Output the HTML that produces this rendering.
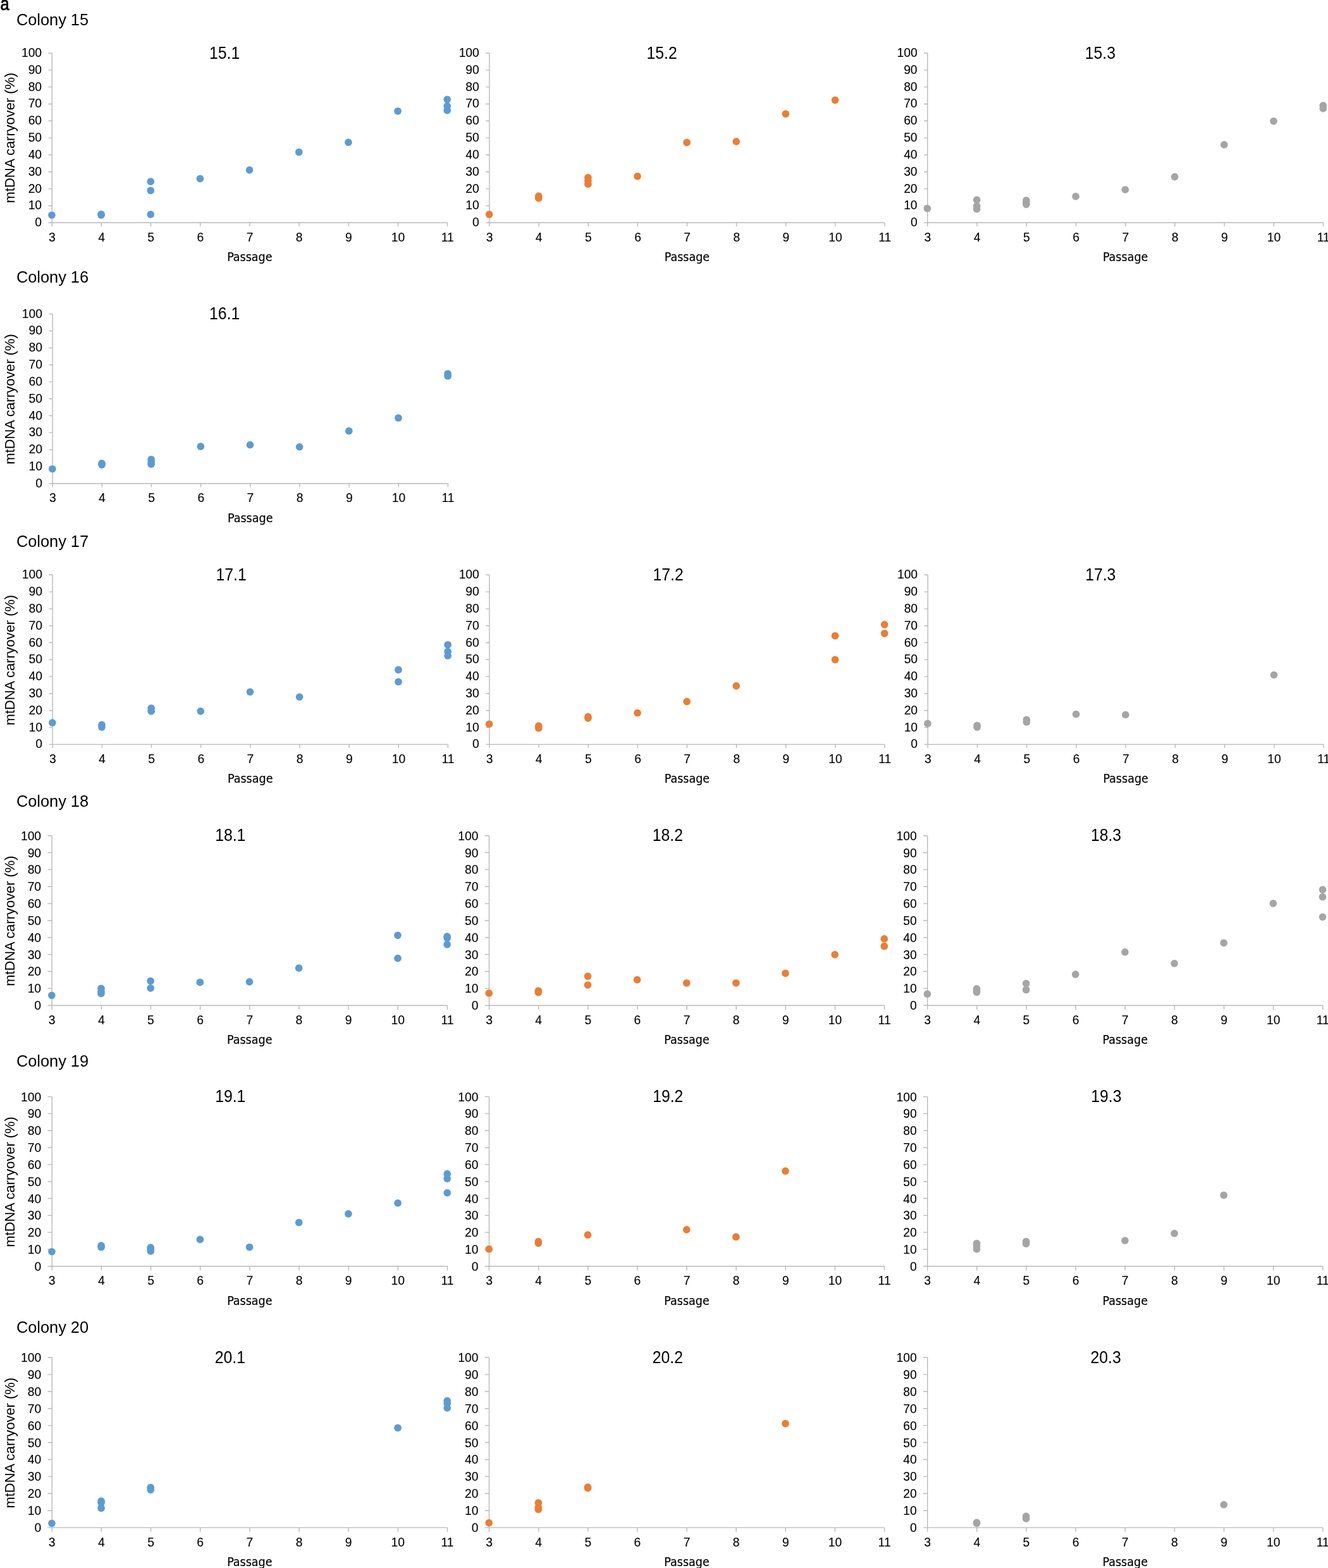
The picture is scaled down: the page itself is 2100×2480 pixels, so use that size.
<!DOCTYPE html>
<html lang="en"><head><meta charset="utf-8"><title>mtDNA carryover by passage</title>
<style>
html,body{margin:0;padding:0;background:#fff;}
body{width:2100px;height:2480px;overflow:hidden;}
svg{display:block;}
text{font-family:"Liberation Sans",Arial,Helvetica,sans-serif;fill:#000;}
.tk{font-size:20.3px;stroke:#000;stroke-width:0.12px;}
.yt text{text-anchor:end;transform-box:fill-box;transform-origin:100% 81%;transform:scale(0.95,1.025);}
.xt text{text-anchor:middle;transform-box:fill-box;transform-origin:50% 81%;transform:scale(0.95,1.025);}
.ti{font-size:25.8px;text-anchor:middle;transform-box:fill-box;transform-origin:50% 81%;transform:scale(0.96,1.05);}
.co{font-size:25.35px;transform-box:fill-box;transform-origin:0 81%;transform:scale(1,1.04);}
.yl{font-size:21.85px;text-anchor:middle;}
.xl{font-size:19.5px;text-anchor:middle;font-family:"DejaVu Sans Condensed","DejaVu Sans","Liberation Sans",sans-serif;font-stretch:condensed;stroke:#000;stroke-width:0.2px;}
.pl{font-size:28.8px;stroke:#000;stroke-width:0.85px;stroke-linejoin:round;}
.ax{stroke:#b8b9ba;stroke-width:1.4;fill:none;}
</style></head><body>
<svg width="2100" height="2480" viewBox="0 0 2100 2480" role="img" aria-label="mtDNA carryover (%) by passage for colonies 15 to 20">
<rect width="2100" height="2480" fill="#fff"/>
<text class="pl" transform="translate(0.6 15.5) scale(0.88 1)">a</text>
<text class="co" x="25.9" y="39.9">Colony 15</text>
<text class="co" x="25.9" y="447.3">Colony 16</text>
<text class="co" x="25.9" y="864.8">Colony 17</text>
<text class="co" x="25.9" y="1275.7">Colony 18</text>
<text class="co" x="25.9" y="1686.9">Colony 19</text>
<text class="co" x="25.9" y="2107.5">Colony 20</text>
<g>
<path class="ax" d="M82.2 84V352.3H707.5M76.5 352.3H82.2M76.5 325.47H82.2M76.5 298.64H82.2M76.5 271.81H82.2M76.5 244.98H82.2M76.5 218.15H82.2M76.5 191.32H82.2M76.5 164.49H82.2M76.5 137.66H82.2M76.5 110.83H82.2M76.5 84H82.2M82.2 352.3V358M160.36 352.3V358M238.52 352.3V358M316.69 352.3V358M394.85 352.3V358M473.01 352.3V358M551.17 352.3V358M629.34 352.3V358M707.5 352.3V358"/>
<g class="tk yt">
<text x="66.1" y="358.3">0</text>
<text x="66.1" y="331.47">10</text>
<text x="66.1" y="304.64">20</text>
<text x="66.1" y="277.81">30</text>
<text x="66.1" y="250.98">40</text>
<text x="66.1" y="224.15">50</text>
<text x="66.1" y="197.32">60</text>
<text x="66.1" y="170.49">70</text>
<text x="66.1" y="143.66">80</text>
<text x="66.1" y="116.83">90</text>
<text x="66.1" y="90">100</text>
</g>
<g class="tk xt">
<text x="82.4" y="381.8">3</text>
<text x="160.56" y="381.8">4</text>
<text x="238.72" y="381.8">5</text>
<text x="316.89" y="381.8">6</text>
<text x="395.05" y="381.8">7</text>
<text x="473.21" y="381.8">8</text>
<text x="551.38" y="381.8">9</text>
<text x="629.54" y="381.8">10</text>
<text x="707.7" y="381.8">11</text>
</g>
<text class="ti" x="355.1" y="92.5">15.1</text>
<text class="xl" x="394.85" y="413">Passage</text>
<text class="yl" transform="translate(23.1 218.05) rotate(-90) scale(1 1.03)">mtDNA carryover (%)</text>
<g fill="#5b9bd5">
<circle cx="81.9" cy="340.23" r="5.85"/>
<circle cx="160.06" cy="340.23" r="5.85"/>
<circle cx="160.06" cy="338.88" r="5.85"/>
<circle cx="238.22" cy="339.15" r="5.85"/>
<circle cx="238.22" cy="301.32" r="5.85"/>
<circle cx="238.22" cy="287.1" r="5.85"/>
<circle cx="316.39" cy="282.54" r="5.85"/>
<circle cx="394.55" cy="268.86" r="5.85"/>
<circle cx="472.71" cy="240.69" r="5.85"/>
<circle cx="550.88" cy="225.13" r="5.85"/>
<circle cx="629.04" cy="175.76" r="5.85"/>
<circle cx="707.2" cy="157.25" r="5.85"/>
<circle cx="707.2" cy="167.71" r="5.85"/>
<circle cx="707.2" cy="174.69" r="5.85"/>
</g>
</g>
<g>
<path class="ax" d="M773.9 84V352.3H1399M768.2 352.3H773.9M768.2 325.47H773.9M768.2 298.64H773.9M768.2 271.81H773.9M768.2 244.98H773.9M768.2 218.15H773.9M768.2 191.32H773.9M768.2 164.49H773.9M768.2 137.66H773.9M768.2 110.83H773.9M768.2 84H773.9M773.9 352.3V358M852.04 352.3V358M930.17 352.3V358M1008.31 352.3V358M1086.45 352.3V358M1164.59 352.3V358M1242.72 352.3V358M1320.86 352.3V358M1399 352.3V358"/>
<g class="tk yt">
<text x="757.8" y="358.3">0</text>
<text x="757.8" y="331.47">10</text>
<text x="757.8" y="304.64">20</text>
<text x="757.8" y="277.81">30</text>
<text x="757.8" y="250.98">40</text>
<text x="757.8" y="224.15">50</text>
<text x="757.8" y="197.32">60</text>
<text x="757.8" y="170.49">70</text>
<text x="757.8" y="143.66">80</text>
<text x="757.8" y="116.83">90</text>
<text x="757.8" y="90">100</text>
</g>
<g class="tk xt">
<text x="774.1" y="381.8">3</text>
<text x="852.24" y="381.8">4</text>
<text x="930.38" y="381.8">5</text>
<text x="1008.51" y="381.8">6</text>
<text x="1086.65" y="381.8">7</text>
<text x="1164.79" y="381.8">8</text>
<text x="1242.92" y="381.8">9</text>
<text x="1321.06" y="381.8">10</text>
<text x="1399.2" y="381.8">11</text>
</g>
<text class="ti" x="1046.6" y="92.5">15.2</text>
<text class="xl" x="1086.45" y="413">Passage</text>
<g fill="#ed7d31">
<circle cx="773.6" cy="339.15" r="5.85"/>
<circle cx="851.74" cy="310.18" r="5.85"/>
<circle cx="851.74" cy="313.4" r="5.85"/>
<circle cx="929.88" cy="280.93" r="5.85"/>
<circle cx="929.88" cy="286.03" r="5.85"/>
<circle cx="929.88" cy="291.13" r="5.85"/>
<circle cx="1008.01" cy="278.79" r="5.85"/>
<circle cx="1086.15" cy="225.39" r="5.85"/>
<circle cx="1164.29" cy="223.78" r="5.85"/>
<circle cx="1242.42" cy="180.05" r="5.85"/>
<circle cx="1320.56" cy="158.32" r="5.85"/>
</g>
</g>
<g>
<path class="ax" d="M1466.7 84V352.3H2092.55M1461 352.3H1466.7M1461 325.47H1466.7M1461 298.64H1466.7M1461 271.81H1466.7M1461 244.98H1466.7M1461 218.15H1466.7M1461 191.32H1466.7M1461 164.49H1466.7M1461 137.66H1466.7M1461 110.83H1466.7M1461 84H1466.7M1466.7 352.3V358M1544.93 352.3V358M1623.16 352.3V358M1701.39 352.3V358M1779.62 352.3V358M1857.86 352.3V358M1936.09 352.3V358M2014.32 352.3V358M2092.55 352.3V358"/>
<g class="tk yt">
<text x="1450.6" y="358.3">0</text>
<text x="1450.6" y="331.47">10</text>
<text x="1450.6" y="304.64">20</text>
<text x="1450.6" y="277.81">30</text>
<text x="1450.6" y="250.98">40</text>
<text x="1450.6" y="224.15">50</text>
<text x="1450.6" y="197.32">60</text>
<text x="1450.6" y="170.49">70</text>
<text x="1450.6" y="143.66">80</text>
<text x="1450.6" y="116.83">90</text>
<text x="1450.6" y="90">100</text>
</g>
<g class="tk xt">
<text x="1466.9" y="381.8">3</text>
<text x="1545.13" y="381.8">4</text>
<text x="1623.36" y="381.8">5</text>
<text x="1701.59" y="381.8">6</text>
<text x="1779.83" y="381.8">7</text>
<text x="1858.06" y="381.8">8</text>
<text x="1936.29" y="381.8">9</text>
<text x="2014.52" y="381.8">10</text>
<text x="2092.75" y="381.8">11</text>
</g>
<text class="ti" x="1739.9" y="92.5">15.3</text>
<text class="xl" x="1779.62" y="413">Passage</text>
<g fill="#a5a5a5">
<circle cx="1466.4" cy="329.76" r="5.85"/>
<circle cx="1544.63" cy="316.08" r="5.85"/>
<circle cx="1544.63" cy="326.01" r="5.85"/>
<circle cx="1544.63" cy="330.57" r="5.85"/>
<circle cx="1622.86" cy="316.88" r="5.85"/>
<circle cx="1622.86" cy="320.64" r="5.85"/>
<circle cx="1622.86" cy="323.32" r="5.85"/>
<circle cx="1701.09" cy="310.71" r="5.85"/>
<circle cx="1779.33" cy="299.98" r="5.85"/>
<circle cx="1857.56" cy="279.59" r="5.85"/>
<circle cx="1935.79" cy="228.88" r="5.85"/>
<circle cx="2014.02" cy="191.59" r="5.85"/>
<circle cx="2092.25" cy="166.9" r="5.85"/>
<circle cx="2092.25" cy="171.73" r="5.85"/>
</g>
</g>
<g>
<path class="ax" d="M83.1 496.6V764.8H708.4M77.4 764.8H83.1M77.4 737.98H83.1M77.4 711.16H83.1M77.4 684.34H83.1M77.4 657.52H83.1M77.4 630.7H83.1M77.4 603.88H83.1M77.4 577.06H83.1M77.4 550.24H83.1M77.4 523.42H83.1M77.4 496.6H83.1M83.1 764.8V770.5M161.26 764.8V770.5M239.42 764.8V770.5M317.59 764.8V770.5M395.75 764.8V770.5M473.91 764.8V770.5M552.07 764.8V770.5M630.24 764.8V770.5M708.4 764.8V770.5"/>
<g class="tk yt">
<text x="67" y="770.8">0</text>
<text x="67" y="743.98">10</text>
<text x="67" y="717.16">20</text>
<text x="67" y="690.34">30</text>
<text x="67" y="663.52">40</text>
<text x="67" y="636.7">50</text>
<text x="67" y="609.88">60</text>
<text x="67" y="583.06">70</text>
<text x="67" y="556.24">80</text>
<text x="67" y="529.42">90</text>
<text x="67" y="502.6">100</text>
</g>
<g class="tk xt">
<text x="83.3" y="794.3">3</text>
<text x="161.46" y="794.3">4</text>
<text x="239.62" y="794.3">5</text>
<text x="317.79" y="794.3">6</text>
<text x="395.95" y="794.3">7</text>
<text x="474.11" y="794.3">8</text>
<text x="552.27" y="794.3">9</text>
<text x="630.44" y="794.3">10</text>
<text x="708.6" y="794.3">11</text>
</g>
<text class="ti" x="355.1" y="505.1">16.1</text>
<text class="xl" x="395.75" y="825.5">Passage</text>
<text class="yl" transform="translate(23.1 631.4) rotate(-90) scale(1 1.03)">mtDNA carryover (%)</text>
<g fill="#5b9bd5">
<circle cx="82.8" cy="741.73" r="5.85"/>
<circle cx="160.96" cy="732.88" r="5.85"/>
<circle cx="160.96" cy="735.03" r="5.85"/>
<circle cx="239.12" cy="726.72" r="5.85"/>
<circle cx="239.12" cy="730.47" r="5.85"/>
<circle cx="239.12" cy="734.23" r="5.85"/>
<circle cx="317.29" cy="706.06" r="5.85"/>
<circle cx="395.45" cy="703.65" r="5.85"/>
<circle cx="473.61" cy="706.87" r="5.85"/>
<circle cx="551.77" cy="681.66" r="5.85"/>
<circle cx="629.94" cy="661.01" r="5.85"/>
<circle cx="708.1" cy="591.01" r="5.85"/>
<circle cx="708.1" cy="594.76" r="5.85"/>
</g>
</g>
<g>
<path class="ax" d="M83.1 909.3V1177.4H708.4M77.4 1177.4H83.1M77.4 1150.59H83.1M77.4 1123.78H83.1M77.4 1096.97H83.1M77.4 1070.16H83.1M77.4 1043.35H83.1M77.4 1016.54H83.1M77.4 989.73H83.1M77.4 962.92H83.1M77.4 936.11H83.1M77.4 909.3H83.1M83.1 1177.4V1183.1M161.26 1177.4V1183.1M239.42 1177.4V1183.1M317.59 1177.4V1183.1M395.75 1177.4V1183.1M473.91 1177.4V1183.1M552.07 1177.4V1183.1M630.24 1177.4V1183.1M708.4 1177.4V1183.1"/>
<g class="tk yt">
<text x="67" y="1183.4">0</text>
<text x="67" y="1156.59">10</text>
<text x="67" y="1129.78">20</text>
<text x="67" y="1102.97">30</text>
<text x="67" y="1076.16">40</text>
<text x="67" y="1049.35">50</text>
<text x="67" y="1022.54">60</text>
<text x="67" y="995.73">70</text>
<text x="67" y="968.92">80</text>
<text x="67" y="942.11">90</text>
<text x="67" y="915.3">100</text>
</g>
<g class="tk xt">
<text x="83.3" y="1206.9">3</text>
<text x="161.46" y="1206.9">4</text>
<text x="239.62" y="1206.9">5</text>
<text x="317.79" y="1206.9">6</text>
<text x="395.95" y="1206.9">7</text>
<text x="474.11" y="1206.9">8</text>
<text x="552.27" y="1206.9">9</text>
<text x="630.44" y="1206.9">10</text>
<text x="708.6" y="1206.9">11</text>
</g>
<text class="ti" x="365.6" y="917.8">17.1</text>
<text class="xl" x="395.75" y="1238.1">Passage</text>
<text class="yl" transform="translate(23.1 1044.05) rotate(-90) scale(1 1.03)">mtDNA carryover (%)</text>
<g fill="#5b9bd5">
<circle cx="82.8" cy="1143.08" r="5.85"/>
<circle cx="160.96" cy="1146.3" r="5.85"/>
<circle cx="160.96" cy="1150.05" r="5.85"/>
<circle cx="239.12" cy="1120.03" r="5.85"/>
<circle cx="239.12" cy="1124.85" r="5.85"/>
<circle cx="317.29" cy="1124.85" r="5.85"/>
<circle cx="395.45" cy="1094.29" r="5.85"/>
<circle cx="473.61" cy="1102.33" r="5.85"/>
<circle cx="629.94" cy="1059.44" r="5.85"/>
<circle cx="629.94" cy="1078.47" r="5.85"/>
<circle cx="708.1" cy="1019.76" r="5.85"/>
<circle cx="708.1" cy="1030.48" r="5.85"/>
<circle cx="708.1" cy="1037.18" r="5.85"/>
</g>
</g>
<g>
<path class="ax" d="M773.9 909.3V1177.4H1399M768.2 1177.4H773.9M768.2 1150.59H773.9M768.2 1123.78H773.9M768.2 1096.97H773.9M768.2 1070.16H773.9M768.2 1043.35H773.9M768.2 1016.54H773.9M768.2 989.73H773.9M768.2 962.92H773.9M768.2 936.11H773.9M768.2 909.3H773.9M773.9 1177.4V1183.1M852.04 1177.4V1183.1M930.17 1177.4V1183.1M1008.31 1177.4V1183.1M1086.45 1177.4V1183.1M1164.59 1177.4V1183.1M1242.72 1177.4V1183.1M1320.86 1177.4V1183.1M1399 1177.4V1183.1"/>
<g class="tk yt">
<text x="757.8" y="1183.4">0</text>
<text x="757.8" y="1156.59">10</text>
<text x="757.8" y="1129.78">20</text>
<text x="757.8" y="1102.97">30</text>
<text x="757.8" y="1076.16">40</text>
<text x="757.8" y="1049.35">50</text>
<text x="757.8" y="1022.54">60</text>
<text x="757.8" y="995.73">70</text>
<text x="757.8" y="968.92">80</text>
<text x="757.8" y="942.11">90</text>
<text x="757.8" y="915.3">100</text>
</g>
<g class="tk xt">
<text x="774.1" y="1206.9">3</text>
<text x="852.24" y="1206.9">4</text>
<text x="930.38" y="1206.9">5</text>
<text x="1008.51" y="1206.9">6</text>
<text x="1086.65" y="1206.9">7</text>
<text x="1164.79" y="1206.9">8</text>
<text x="1242.92" y="1206.9">9</text>
<text x="1321.06" y="1206.9">10</text>
<text x="1399.2" y="1206.9">11</text>
</g>
<text class="ti" x="1056.6" y="917.8">17.2</text>
<text class="xl" x="1086.45" y="1238.1">Passage</text>
<g fill="#ed7d31">
<circle cx="773.6" cy="1145.23" r="5.85"/>
<circle cx="851.74" cy="1148.18" r="5.85"/>
<circle cx="851.74" cy="1151.66" r="5.85"/>
<circle cx="929.88" cy="1133.7" r="5.85"/>
<circle cx="929.88" cy="1135.84" r="5.85"/>
<circle cx="1008.01" cy="1127.53" r="5.85"/>
<circle cx="1086.15" cy="1109.57" r="5.85"/>
<circle cx="1164.29" cy="1084.91" r="5.85"/>
<circle cx="1320.56" cy="1005.55" r="5.85"/>
<circle cx="1320.56" cy="1043.35" r="5.85"/>
<circle cx="1398.7" cy="987.85" r="5.85"/>
<circle cx="1398.7" cy="1001.79" r="5.85"/>
</g>
</g>
<g>
<path class="ax" d="M1467.2 909.3V1177.4H2093.05M1461.5 1177.4H1467.2M1461.5 1150.59H1467.2M1461.5 1123.78H1467.2M1461.5 1096.97H1467.2M1461.5 1070.16H1467.2M1461.5 1043.35H1467.2M1461.5 1016.54H1467.2M1461.5 989.73H1467.2M1461.5 962.92H1467.2M1461.5 936.11H1467.2M1461.5 909.3H1467.2M1467.2 1177.4V1183.1M1545.43 1177.4V1183.1M1623.66 1177.4V1183.1M1701.89 1177.4V1183.1M1780.12 1177.4V1183.1M1858.36 1177.4V1183.1M1936.59 1177.4V1183.1M2014.82 1177.4V1183.1M2093.05 1177.4V1183.1"/>
<g class="tk yt">
<text x="1451.1" y="1183.4">0</text>
<text x="1451.1" y="1156.59">10</text>
<text x="1451.1" y="1129.78">20</text>
<text x="1451.1" y="1102.97">30</text>
<text x="1451.1" y="1076.16">40</text>
<text x="1451.1" y="1049.35">50</text>
<text x="1451.1" y="1022.54">60</text>
<text x="1451.1" y="995.73">70</text>
<text x="1451.1" y="968.92">80</text>
<text x="1451.1" y="942.11">90</text>
<text x="1451.1" y="915.3">100</text>
</g>
<g class="tk xt">
<text x="1467.4" y="1206.9">3</text>
<text x="1545.63" y="1206.9">4</text>
<text x="1623.86" y="1206.9">5</text>
<text x="1702.09" y="1206.9">6</text>
<text x="1780.33" y="1206.9">7</text>
<text x="1858.56" y="1206.9">8</text>
<text x="1936.79" y="1206.9">9</text>
<text x="2015.02" y="1206.9">10</text>
<text x="2093.25" y="1206.9">11</text>
</g>
<text class="ti" x="1740.3" y="917.8">17.3</text>
<text class="xl" x="1780.12" y="1238.1">Passage</text>
<g fill="#a5a5a5">
<circle cx="1466.9" cy="1144.42" r="5.85"/>
<circle cx="1545.13" cy="1147.37" r="5.85"/>
<circle cx="1545.13" cy="1150.05" r="5.85"/>
<circle cx="1623.36" cy="1138.26" r="5.85"/>
<circle cx="1623.36" cy="1142.01" r="5.85"/>
<circle cx="1701.59" cy="1129.68" r="5.85"/>
<circle cx="1779.83" cy="1130.48" r="5.85"/>
<circle cx="2014.52" cy="1067.48" r="5.85"/>
</g>
</g>
<g>
<path class="ax" d="M82.1 1321.7V1590.2H707.4M75.4 1590.2H82.1M75.4 1563.35H82.1M75.4 1536.5H82.1M75.4 1509.65H82.1M75.4 1482.8H82.1M75.4 1455.95H82.1M75.4 1429.1H82.1M75.4 1402.25H82.1M75.4 1375.4H82.1M75.4 1348.55H82.1M75.4 1321.7H82.1M82.1 1590.2V1596.9M160.26 1590.2V1596.9M238.42 1590.2V1596.9M316.59 1590.2V1596.9M394.75 1590.2V1596.9M472.91 1590.2V1596.9M551.07 1590.2V1596.9M629.24 1590.2V1596.9M707.4 1590.2V1596.9"/>
<g class="tk yt">
<text x="65.1" y="1597.2">0</text>
<text x="65.1" y="1570.35">10</text>
<text x="65.1" y="1543.5">20</text>
<text x="65.1" y="1516.65">30</text>
<text x="65.1" y="1489.8">40</text>
<text x="65.1" y="1462.95">50</text>
<text x="65.1" y="1436.1">60</text>
<text x="65.1" y="1409.25">70</text>
<text x="65.1" y="1382.4">80</text>
<text x="65.1" y="1355.55">90</text>
<text x="65.1" y="1328.7">100</text>
</g>
<g class="tk xt">
<text x="82.1" y="1619.9">3</text>
<text x="160.26" y="1619.9">4</text>
<text x="238.42" y="1619.9">5</text>
<text x="316.59" y="1619.9">6</text>
<text x="394.75" y="1619.9">7</text>
<text x="472.91" y="1619.9">8</text>
<text x="551.07" y="1619.9">9</text>
<text x="629.24" y="1619.9">10</text>
<text x="707.4" y="1619.9">11</text>
</g>
<text class="ti" x="364.3" y="1330.2">18.1</text>
<text class="xl" x="394.75" y="1650.9">Passage</text>
<text class="yl" transform="translate(23.1 1456.65) rotate(-90) scale(1 1.03)">mtDNA carryover (%)</text>
<g fill="#5b9bd5">
<circle cx="81.8" cy="1574.36" r="5.85"/>
<circle cx="159.96" cy="1563.35" r="5.85"/>
<circle cx="159.96" cy="1567.91" r="5.85"/>
<circle cx="159.96" cy="1571.4" r="5.85"/>
<circle cx="238.12" cy="1551.54" r="5.85"/>
<circle cx="238.12" cy="1562.81" r="5.85"/>
<circle cx="316.29" cy="1553.68" r="5.85"/>
<circle cx="394.45" cy="1552.88" r="5.85"/>
<circle cx="472.61" cy="1531.13" r="5.85"/>
<circle cx="628.94" cy="1479.31" r="5.85"/>
<circle cx="628.94" cy="1515.56" r="5.85"/>
<circle cx="707.1" cy="1481.19" r="5.85"/>
<circle cx="707.1" cy="1483.61" r="5.85"/>
<circle cx="707.1" cy="1493.81" r="5.85"/>
</g>
</g>
<g>
<path class="ax" d="M773.5 1321.7V1590.2H1398.6M766.8 1590.2H773.5M766.8 1563.35H773.5M766.8 1536.5H773.5M766.8 1509.65H773.5M766.8 1482.8H773.5M766.8 1455.95H773.5M766.8 1429.1H773.5M766.8 1402.25H773.5M766.8 1375.4H773.5M766.8 1348.55H773.5M766.8 1321.7H773.5M773.5 1590.2V1596.9M851.64 1590.2V1596.9M929.77 1590.2V1596.9M1007.91 1590.2V1596.9M1086.05 1590.2V1596.9M1164.19 1590.2V1596.9M1242.33 1590.2V1596.9M1320.46 1590.2V1596.9M1398.6 1590.2V1596.9"/>
<g class="tk yt">
<text x="756.5" y="1597.2">0</text>
<text x="756.5" y="1570.35">10</text>
<text x="756.5" y="1543.5">20</text>
<text x="756.5" y="1516.65">30</text>
<text x="756.5" y="1489.8">40</text>
<text x="756.5" y="1462.95">50</text>
<text x="756.5" y="1436.1">60</text>
<text x="756.5" y="1409.25">70</text>
<text x="756.5" y="1382.4">80</text>
<text x="756.5" y="1355.55">90</text>
<text x="756.5" y="1328.7">100</text>
</g>
<g class="tk xt">
<text x="773.5" y="1619.9">3</text>
<text x="851.64" y="1619.9">4</text>
<text x="929.77" y="1619.9">5</text>
<text x="1007.91" y="1619.9">6</text>
<text x="1086.05" y="1619.9">7</text>
<text x="1164.19" y="1619.9">8</text>
<text x="1242.33" y="1619.9">9</text>
<text x="1320.46" y="1619.9">10</text>
<text x="1398.6" y="1619.9">11</text>
</g>
<text class="ti" x="1055.9" y="1330.2">18.2</text>
<text class="xl" x="1086.05" y="1650.9">Passage</text>
<g fill="#ed7d31">
<circle cx="773.2" cy="1570.87" r="5.85"/>
<circle cx="851.34" cy="1567.11" r="5.85"/>
<circle cx="851.34" cy="1569.53" r="5.85"/>
<circle cx="929.48" cy="1544.02" r="5.85"/>
<circle cx="929.48" cy="1557.98" r="5.85"/>
<circle cx="1007.61" cy="1549.66" r="5.85"/>
<circle cx="1085.75" cy="1554.76" r="5.85"/>
<circle cx="1163.89" cy="1554.76" r="5.85"/>
<circle cx="1242.03" cy="1539.45" r="5.85"/>
<circle cx="1320.16" cy="1509.92" r="5.85"/>
<circle cx="1398.3" cy="1484.95" r="5.85"/>
<circle cx="1398.3" cy="1496.49" r="5.85"/>
</g>
</g>
<g>
<path class="ax" d="M1466.65 1321.7V1590.2H2091.8M1459.95 1590.2H1466.65M1459.95 1563.35H1466.65M1459.95 1536.5H1466.65M1459.95 1509.65H1466.65M1459.95 1482.8H1466.65M1459.95 1455.95H1466.65M1459.95 1429.1H1466.65M1459.95 1402.25H1466.65M1459.95 1375.4H1466.65M1459.95 1348.55H1466.65M1459.95 1321.7H1466.65M1466.65 1590.2V1596.9M1544.79 1590.2V1596.9M1622.94 1590.2V1596.9M1701.08 1590.2V1596.9M1779.23 1590.2V1596.9M1857.37 1590.2V1596.9M1935.51 1590.2V1596.9M2013.66 1590.2V1596.9M2091.8 1590.2V1596.9"/>
<g class="tk yt">
<text x="1449.65" y="1597.2">0</text>
<text x="1449.65" y="1570.35">10</text>
<text x="1449.65" y="1543.5">20</text>
<text x="1449.65" y="1516.65">30</text>
<text x="1449.65" y="1489.8">40</text>
<text x="1449.65" y="1462.95">50</text>
<text x="1449.65" y="1436.1">60</text>
<text x="1449.65" y="1409.25">70</text>
<text x="1449.65" y="1382.4">80</text>
<text x="1449.65" y="1355.55">90</text>
<text x="1449.65" y="1328.7">100</text>
</g>
<g class="tk xt">
<text x="1466.65" y="1619.9">3</text>
<text x="1544.79" y="1619.9">4</text>
<text x="1622.94" y="1619.9">5</text>
<text x="1701.08" y="1619.9">6</text>
<text x="1779.23" y="1619.9">7</text>
<text x="1857.37" y="1619.9">8</text>
<text x="1935.51" y="1619.9">9</text>
<text x="2013.66" y="1619.9">10</text>
<text x="2091.8" y="1619.9">11</text>
</g>
<text class="ti" x="1749" y="1330.2">18.3</text>
<text class="xl" x="1779.23" y="1650.9">Passage</text>
<g fill="#a5a5a5">
<circle cx="1466.35" cy="1572.21" r="5.85"/>
<circle cx="1544.49" cy="1563.89" r="5.85"/>
<circle cx="1544.49" cy="1566.3" r="5.85"/>
<circle cx="1544.49" cy="1569.26" r="5.85"/>
<circle cx="1622.64" cy="1555.56" r="5.85"/>
<circle cx="1622.64" cy="1565.5" r="5.85"/>
<circle cx="1700.78" cy="1541.06" r="5.85"/>
<circle cx="1778.93" cy="1505.89" r="5.85"/>
<circle cx="1857.07" cy="1523.88" r="5.85"/>
<circle cx="1935.21" cy="1491.39" r="5.85"/>
<circle cx="2013.36" cy="1428.83" r="5.85"/>
<circle cx="2091.5" cy="1407.08" r="5.85"/>
<circle cx="2091.5" cy="1418.63" r="5.85"/>
<circle cx="2091.5" cy="1450.31" r="5.85"/>
</g>
</g>
<g>
<path class="ax" d="M82.2 1734.6V2002.8H707.5M75.5 2002.8H82.2M75.5 1975.98H82.2M75.5 1949.16H82.2M75.5 1922.34H82.2M75.5 1895.52H82.2M75.5 1868.7H82.2M75.5 1841.88H82.2M75.5 1815.06H82.2M75.5 1788.24H82.2M75.5 1761.42H82.2M75.5 1734.6H82.2M82.2 2002.8V2009.5M160.36 2002.8V2009.5M238.52 2002.8V2009.5M316.69 2002.8V2009.5M394.85 2002.8V2009.5M473.01 2002.8V2009.5M551.17 2002.8V2009.5M629.34 2002.8V2009.5M707.5 2002.8V2009.5"/>
<g class="tk yt">
<text x="65.2" y="2009.8">0</text>
<text x="65.2" y="1982.98">10</text>
<text x="65.2" y="1956.16">20</text>
<text x="65.2" y="1929.34">30</text>
<text x="65.2" y="1902.52">40</text>
<text x="65.2" y="1875.7">50</text>
<text x="65.2" y="1848.88">60</text>
<text x="65.2" y="1822.06">70</text>
<text x="65.2" y="1795.24">80</text>
<text x="65.2" y="1768.42">90</text>
<text x="65.2" y="1741.6">100</text>
</g>
<g class="tk xt">
<text x="82.2" y="2032.5">3</text>
<text x="160.36" y="2032.5">4</text>
<text x="238.52" y="2032.5">5</text>
<text x="316.69" y="2032.5">6</text>
<text x="394.85" y="2032.5">7</text>
<text x="473.01" y="2032.5">8</text>
<text x="551.17" y="2032.5">9</text>
<text x="629.34" y="2032.5">10</text>
<text x="707.5" y="2032.5">11</text>
</g>
<text class="ti" x="364.3" y="1743.1">19.1</text>
<text class="xl" x="394.85" y="2063.5">Passage</text>
<text class="yl" transform="translate(23.1 1869.4) rotate(-90) scale(1 1.03)">mtDNA carryover (%)</text>
<g fill="#5b9bd5">
<circle cx="81.9" cy="1979.73" r="5.85"/>
<circle cx="160.06" cy="1970.08" r="5.85"/>
<circle cx="160.06" cy="1972.49" r="5.85"/>
<circle cx="238.22" cy="1973.03" r="5.85"/>
<circle cx="238.22" cy="1975.98" r="5.85"/>
<circle cx="238.22" cy="1978.93" r="5.85"/>
<circle cx="316.39" cy="1960.42" r="5.85"/>
<circle cx="394.55" cy="1972.49" r="5.85"/>
<circle cx="472.71" cy="1933.6" r="5.85"/>
<circle cx="550.88" cy="1919.93" r="5.85"/>
<circle cx="629.04" cy="1902.76" r="5.85"/>
<circle cx="707.2" cy="1856.63" r="5.85"/>
<circle cx="707.2" cy="1864.14" r="5.85"/>
<circle cx="707.2" cy="1886.67" r="5.85"/>
</g>
</g>
<g>
<path class="ax" d="M773.5 1734.6V2002.8H1398.6M766.8 2002.8H773.5M766.8 1975.98H773.5M766.8 1949.16H773.5M766.8 1922.34H773.5M766.8 1895.52H773.5M766.8 1868.7H773.5M766.8 1841.88H773.5M766.8 1815.06H773.5M766.8 1788.24H773.5M766.8 1761.42H773.5M766.8 1734.6H773.5M773.5 2002.8V2009.5M851.64 2002.8V2009.5M929.77 2002.8V2009.5M1007.91 2002.8V2009.5M1086.05 2002.8V2009.5M1164.19 2002.8V2009.5M1242.33 2002.8V2009.5M1320.46 2002.8V2009.5M1398.6 2002.8V2009.5"/>
<g class="tk yt">
<text x="756.5" y="2009.8">0</text>
<text x="756.5" y="1982.98">10</text>
<text x="756.5" y="1956.16">20</text>
<text x="756.5" y="1929.34">30</text>
<text x="756.5" y="1902.52">40</text>
<text x="756.5" y="1875.7">50</text>
<text x="756.5" y="1848.88">60</text>
<text x="756.5" y="1822.06">70</text>
<text x="756.5" y="1795.24">80</text>
<text x="756.5" y="1768.42">90</text>
<text x="756.5" y="1741.6">100</text>
</g>
<g class="tk xt">
<text x="773.5" y="2032.5">3</text>
<text x="851.64" y="2032.5">4</text>
<text x="929.77" y="2032.5">5</text>
<text x="1007.91" y="2032.5">6</text>
<text x="1086.05" y="2032.5">7</text>
<text x="1164.19" y="2032.5">8</text>
<text x="1242.33" y="2032.5">9</text>
<text x="1320.46" y="2032.5">10</text>
<text x="1398.6" y="2032.5">11</text>
</g>
<text class="ti" x="1056.3" y="1743.1">19.2</text>
<text class="xl" x="1086.05" y="2063.5">Passage</text>
<g fill="#ed7d31">
<circle cx="773.2" cy="1975.71" r="5.85"/>
<circle cx="851.34" cy="1963.64" r="5.85"/>
<circle cx="851.34" cy="1966.32" r="5.85"/>
<circle cx="929.48" cy="1953.18" r="5.85"/>
<circle cx="1085.75" cy="1944.87" r="5.85"/>
<circle cx="1163.89" cy="1956.4" r="5.85"/>
<circle cx="1242.03" cy="1852.07" r="5.85"/>
</g>
</g>
<g>
<path class="ax" d="M1466.65 1734.6V2002.8H2091.8M1459.95 2002.8H1466.65M1459.95 1975.98H1466.65M1459.95 1949.16H1466.65M1459.95 1922.34H1466.65M1459.95 1895.52H1466.65M1459.95 1868.7H1466.65M1459.95 1841.88H1466.65M1459.95 1815.06H1466.65M1459.95 1788.24H1466.65M1459.95 1761.42H1466.65M1459.95 1734.6H1466.65M1466.65 2002.8V2009.5M1544.79 2002.8V2009.5M1622.94 2002.8V2009.5M1701.08 2002.8V2009.5M1779.23 2002.8V2009.5M1857.37 2002.8V2009.5M1935.51 2002.8V2009.5M2013.66 2002.8V2009.5M2091.8 2002.8V2009.5"/>
<g class="tk yt">
<text x="1449.65" y="2009.8">0</text>
<text x="1449.65" y="1982.98">10</text>
<text x="1449.65" y="1956.16">20</text>
<text x="1449.65" y="1929.34">30</text>
<text x="1449.65" y="1902.52">40</text>
<text x="1449.65" y="1875.7">50</text>
<text x="1449.65" y="1848.88">60</text>
<text x="1449.65" y="1822.06">70</text>
<text x="1449.65" y="1795.24">80</text>
<text x="1449.65" y="1768.42">90</text>
<text x="1449.65" y="1741.6">100</text>
</g>
<g class="tk xt">
<text x="1466.65" y="2032.5">3</text>
<text x="1544.79" y="2032.5">4</text>
<text x="1622.94" y="2032.5">5</text>
<text x="1701.08" y="2032.5">6</text>
<text x="1779.23" y="2032.5">7</text>
<text x="1857.37" y="2032.5">8</text>
<text x="1935.51" y="2032.5">9</text>
<text x="2013.66" y="2032.5">10</text>
<text x="2091.8" y="2032.5">11</text>
</g>
<text class="ti" x="1749.4" y="1743.1">19.3</text>
<text class="xl" x="1779.23" y="2063.5">Passage</text>
<g fill="#a5a5a5">
<circle cx="1544.49" cy="1966.59" r="5.85"/>
<circle cx="1544.49" cy="1970.62" r="5.85"/>
<circle cx="1544.49" cy="1975.71" r="5.85"/>
<circle cx="1622.64" cy="1963.64" r="5.85"/>
<circle cx="1622.64" cy="1967.13" r="5.85"/>
<circle cx="1778.93" cy="1962.03" r="5.85"/>
<circle cx="1857.07" cy="1950.77" r="5.85"/>
<circle cx="1935.21" cy="1890.42" r="5.85"/>
</g>
</g>
<g>
<path class="ax" d="M82.2 2147V2416.1H707.5M75.5 2416.1H82.2M75.5 2389.19H82.2M75.5 2362.28H82.2M75.5 2335.37H82.2M75.5 2308.46H82.2M75.5 2281.55H82.2M75.5 2254.64H82.2M75.5 2227.73H82.2M75.5 2200.82H82.2M75.5 2173.91H82.2M75.5 2147H82.2M82.2 2416.1V2422.8M160.36 2416.1V2422.8M238.52 2416.1V2422.8M316.69 2416.1V2422.8M394.85 2416.1V2422.8M473.01 2416.1V2422.8M551.17 2416.1V2422.8M629.34 2416.1V2422.8M707.5 2416.1V2422.8"/>
<g class="tk yt">
<text x="65.2" y="2423.1">0</text>
<text x="65.2" y="2396.19">10</text>
<text x="65.2" y="2369.28">20</text>
<text x="65.2" y="2342.37">30</text>
<text x="65.2" y="2315.46">40</text>
<text x="65.2" y="2288.55">50</text>
<text x="65.2" y="2261.64">60</text>
<text x="65.2" y="2234.73">70</text>
<text x="65.2" y="2207.82">80</text>
<text x="65.2" y="2180.91">90</text>
<text x="65.2" y="2154">100</text>
</g>
<g class="tk xt">
<text x="82.2" y="2445.8">3</text>
<text x="160.36" y="2445.8">4</text>
<text x="238.52" y="2445.8">5</text>
<text x="316.69" y="2445.8">6</text>
<text x="394.85" y="2445.8">7</text>
<text x="473.01" y="2445.8">8</text>
<text x="551.17" y="2445.8">9</text>
<text x="629.34" y="2445.8">10</text>
<text x="707.5" y="2445.8">11</text>
</g>
<text class="ti" x="363.9" y="2155.5">20.1</text>
<text class="xl" x="394.85" y="2476.8">Passage</text>
<text class="yl" transform="translate(23.1 2282.25) rotate(-90) scale(1 1.03)">mtDNA carryover (%)</text>
<g fill="#5b9bd5">
<circle cx="81.9" cy="2409.37" r="5.85"/>
<circle cx="160.06" cy="2374.12" r="5.85"/>
<circle cx="160.06" cy="2376.54" r="5.85"/>
<circle cx="160.06" cy="2385.42" r="5.85"/>
<circle cx="238.22" cy="2352.59" r="5.85"/>
<circle cx="238.22" cy="2356.36" r="5.85"/>
<circle cx="629.04" cy="2258.41" r="5.85"/>
<circle cx="707.2" cy="2215.62" r="5.85"/>
<circle cx="707.2" cy="2219.66" r="5.85"/>
<circle cx="707.2" cy="2226.92" r="5.85"/>
</g>
</g>
<g>
<path class="ax" d="M773.5 2147V2416.1H1398.6M766.8 2416.1H773.5M766.8 2389.19H773.5M766.8 2362.28H773.5M766.8 2335.37H773.5M766.8 2308.46H773.5M766.8 2281.55H773.5M766.8 2254.64H773.5M766.8 2227.73H773.5M766.8 2200.82H773.5M766.8 2173.91H773.5M766.8 2147H773.5M773.5 2416.1V2422.8M851.64 2416.1V2422.8M929.77 2416.1V2422.8M1007.91 2416.1V2422.8M1086.05 2416.1V2422.8M1164.19 2416.1V2422.8M1242.33 2416.1V2422.8M1320.46 2416.1V2422.8M1398.6 2416.1V2422.8"/>
<g class="tk yt">
<text x="756.5" y="2423.1">0</text>
<text x="756.5" y="2396.19">10</text>
<text x="756.5" y="2369.28">20</text>
<text x="756.5" y="2342.37">30</text>
<text x="756.5" y="2315.46">40</text>
<text x="756.5" y="2288.55">50</text>
<text x="756.5" y="2261.64">60</text>
<text x="756.5" y="2234.73">70</text>
<text x="756.5" y="2207.82">80</text>
<text x="756.5" y="2180.91">90</text>
<text x="756.5" y="2154">100</text>
</g>
<g class="tk xt">
<text x="773.5" y="2445.8">3</text>
<text x="851.64" y="2445.8">4</text>
<text x="929.77" y="2445.8">5</text>
<text x="1007.91" y="2445.8">6</text>
<text x="1086.05" y="2445.8">7</text>
<text x="1164.19" y="2445.8">8</text>
<text x="1242.33" y="2445.8">9</text>
<text x="1320.46" y="2445.8">10</text>
<text x="1398.6" y="2445.8">11</text>
</g>
<text class="ti" x="1055.9" y="2155.5">20.2</text>
<text class="xl" x="1086.05" y="2476.8">Passage</text>
<g fill="#ed7d31">
<circle cx="773.2" cy="2408.57" r="5.85"/>
<circle cx="851.34" cy="2376.81" r="5.85"/>
<circle cx="851.34" cy="2383.81" r="5.85"/>
<circle cx="851.34" cy="2387.31" r="5.85"/>
<circle cx="929.48" cy="2352.05" r="5.85"/>
<circle cx="929.48" cy="2353.67" r="5.85"/>
<circle cx="1242.03" cy="2251.68" r="5.85"/>
</g>
</g>
<g>
<path class="ax" d="M1466.65 2147V2416.1H2091.8M1459.95 2416.1H1466.65M1459.95 2389.19H1466.65M1459.95 2362.28H1466.65M1459.95 2335.37H1466.65M1459.95 2308.46H1466.65M1459.95 2281.55H1466.65M1459.95 2254.64H1466.65M1459.95 2227.73H1466.65M1459.95 2200.82H1466.65M1459.95 2173.91H1466.65M1459.95 2147H1466.65M1466.65 2416.1V2422.8M1544.79 2416.1V2422.8M1622.94 2416.1V2422.8M1701.08 2416.1V2422.8M1779.23 2416.1V2422.8M1857.37 2416.1V2422.8M1935.51 2416.1V2422.8M2013.66 2416.1V2422.8M2091.8 2416.1V2422.8"/>
<g class="tk yt">
<text x="1449.65" y="2423.1">0</text>
<text x="1449.65" y="2396.19">10</text>
<text x="1449.65" y="2369.28">20</text>
<text x="1449.65" y="2342.37">30</text>
<text x="1449.65" y="2315.46">40</text>
<text x="1449.65" y="2288.55">50</text>
<text x="1449.65" y="2261.64">60</text>
<text x="1449.65" y="2234.73">70</text>
<text x="1449.65" y="2207.82">80</text>
<text x="1449.65" y="2180.91">90</text>
<text x="1449.65" y="2154">100</text>
</g>
<g class="tk xt">
<text x="1466.65" y="2445.8">3</text>
<text x="1544.79" y="2445.8">4</text>
<text x="1622.94" y="2445.8">5</text>
<text x="1701.08" y="2445.8">6</text>
<text x="1779.23" y="2445.8">7</text>
<text x="1857.37" y="2445.8">8</text>
<text x="1935.51" y="2445.8">9</text>
<text x="2013.66" y="2445.8">10</text>
<text x="2091.8" y="2445.8">11</text>
</g>
<text class="ti" x="1748.6" y="2155.5">20.3</text>
<text class="xl" x="1779.23" y="2476.8">Passage</text>
<g fill="#a5a5a5">
<circle cx="1544.49" cy="2408.03" r="5.85"/>
<circle cx="1544.49" cy="2409.37" r="5.85"/>
<circle cx="1622.64" cy="2398.07" r="5.85"/>
<circle cx="1622.64" cy="2401.84" r="5.85"/>
<circle cx="1935.21" cy="2379.77" r="5.85"/>
</g>
</g>
</svg>
</body></html>
